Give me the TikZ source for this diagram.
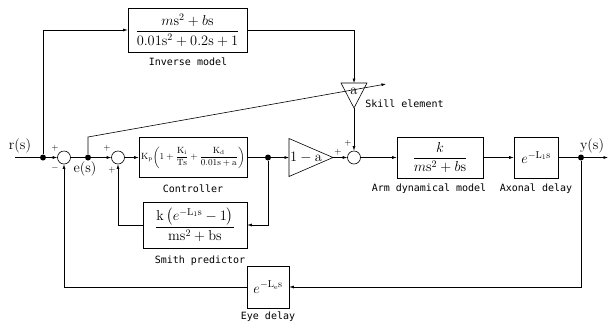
\documentclass[tikz,border=0pt]{standalone}
\usepackage{amsmath}
\usepackage{fontspec}
\newfontfamily\lblfont{DejaVu Sans Mono}
\usetikzlibrary{arrows.meta}

\tikzset{
  blk/.style={draw, inner sep=1pt},
  sumpt/.style={circle, draw, minimum size=13pt, inner sep=0pt},
  dotpt/.style={circle, fill, minimum size=6pt, inner sep=0pt},
  lbl/.style={font=\lblfont\fontsize{10}{12}\selectfont, inner sep=0pt},
  sgn/.style={font=\small, inner sep=0pt},
  sig/.style={-{Latex[length=4.5pt,width=3pt]}},
}

\begin{document}
\begin{tikzpicture}[x=1pt, y=-1pt, line width=0.6pt]
\useasboundingbox (0,0) rectangle (608,325);

% blocks
\node[blk, minimum width=119, minimum height=44] (inv) at (187.5,30)
  {\Large$\dfrac{m\mathrm{s}^2+b\mathrm{s}}{0.01\mathrm{s}^2+0.2\mathrm{s}+1}$};
\node[lbl] (inv-l) at (188,62) {Inverse model};

\node[blk, minimum width=108, minimum height=40] (ctrl) at (193,157.5)
  {\small$\mathrm{K_p}\!\left(1+\dfrac{\mathrm{K_i}}{\mathrm{Ts}}+\dfrac{\mathrm{K_d}}{0.01\mathrm{s}+\mathrm{a}}\right)$};
\node[lbl] (ctrl-l) at (193,189) {Controller};

\node[blk, minimum width=104, minimum height=46] (smith) at (195,225)
  {\Large$\dfrac{\mathrm{k}\left(e^{-\mathrm{L_1 s}}-1\right)}{\mathrm{ms}^2+\mathrm{bs}}$};
\node[lbl] (smith-l) at (200,261) {Smith predictor};

\node[blk, minimum width=86, minimum height=41] (arm) at (440,157.5)
  {\Large$\dfrac{k}{m\mathrm{s}^2+b\mathrm{s}}$};
\node[lbl] (arm-l) at (429,189) {Arm dynamical model};

\node[blk, minimum width=44, minimum height=41] (axon) at (536,157.5)
  {\Large$e^{-\mathrm{L_1 s}}$};
\node[lbl] (axon-l) at (536,189) {Axonal delay};

\node[blk, minimum width=42, minimum height=42] (eye) at (268,287)
  {\Large$e^{-\mathrm{L_e s}}$};
\node[lbl] (eye-l) at (268,317) {Eye delay};

% gains
\coordinate (gain-w) at (289,157.5);
\coordinate (gain) at (333,157.5);
\draw (289,138.5) -- (gain) -- (289,176.5) -- cycle;
\node[font=\Large, inner sep=0pt] (gain-t) at (306,157) {$1-\mathrm{a}$};
\coordinate (skill-n) at (354,83);
\coordinate (skill) at (354,108);
\draw (341,83) -- (367,83) -- (skill) -- cycle;
\node[font=\Large, inner sep=0pt] (skill-t) at (354,91.5) {$\mathrm{a}$};
\node[lbl, anchor=west] (skill-l) at (365,104) {Skill element};

% summing points and branch points
\node[sumpt] (sum1) at (64,157.5) {};
\node[sumpt] (sum2) at (118,157.5) {};
\node[sumpt] (sum3) at (354,157.5) {};
\node[dotpt] (j1) at (43,157.5) {};
\node[dotpt] (j2) at (88,157.5) {};
\node[dotpt] (j3) at (268,157.5) {};
\node[dotpt] (j4) at (581,157.5) {};
\coordinate (in) at (15,157.5);
\coordinate (out) at (608,157.5);
\coordinate (sk-a) at (88,137);
\coordinate (sk-b) at (386,84);

% signals
\node[font=\Large] (r-l) at (20,146) {$\mathrm{r(s)}$};
\node[font=\Large] (e-l) at (85,169) {$\mathrm{e(s)}$};
\node[font=\Large] (y-l) at (592,146) {$\mathrm{y(s)}$};

% signs
\node[sgn] (s1a) at (55,148) {$+$};
\node[sgn] (s1b) at (55,168) {$-$};
\node[sgn] (s2a) at (107,148) {$+$};
\node[sgn] (s2b) at (112,170) {$+$};
\node[sgn] (s3a) at (348,143) {$+$};
\node[sgn] (s3b) at (338,152) {$+$};

% connectors
\draw (in) -- (j1);
\draw[sig] (j1) -- (sum1);
\draw (sum1) -- (j2);
\draw[sig] (j2) -- (sum2);
\draw[sig] (sum2) -- (ctrl);
\draw (ctrl) -- (j3);
\draw[sig] (j3) -- (gain-w);
\draw[sig] (gain) -- (sum3);
\draw[sig] (sum3) -- (arm);
\draw[sig] (arm) -- (axon);
\draw (axon) -- (j4);
\draw[sig] (j4) -- (out);
\draw[sig] (j1) |- (inv);
\draw[sig] (inv) -| (skill-n);
\draw[sig] (skill) -- (sum3);
\draw[sig] (j2) -- (sk-a) -- (sk-b);
\draw[sig] (j3) |- (smith);
\draw[sig] (smith) -| (sum2);
\draw[sig] (j4) |- (eye);
\draw[sig] (eye) -| (sum1);
\end{tikzpicture}
\end{document}
